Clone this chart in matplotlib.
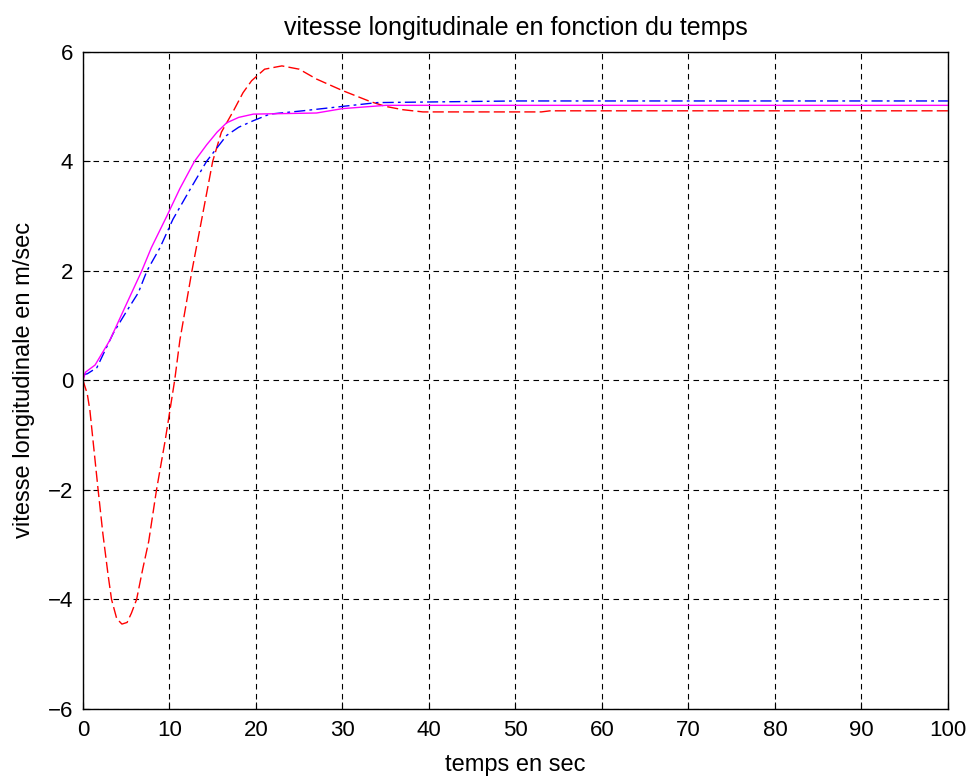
import matplotlib.pyplot as plt

plt.rcParams['font.family'] = ['Liberation Sans', 'DejaVu Sans']

# red dashed response
t_red = [0, 0.5, 0.8, 1.2, 1.75, 2.3, 2.9, 3.3, 3.9, 4.5, 5.1, 5.6, 6.2, 6.9, 7.6,
         8.5, 9.5, 10.6, 11.2, 12.6, 13.8, 15.0, 16.0, 17.4, 18.5, 19.5, 21, 23,
         25, 27, 30, 33.2, 35, 37, 39.3, 53, 54, 100]
v_red = [0, -0.25, -0.55, -1.16, -2.0, -2.8, -3.55, -4.0, -4.35, -4.45, -4.42, -4.25,
         -4.0, -3.45, -2.94, -2.0, -1.1, 0.0, 0.73, 2.0, 3.0, 4.0, 4.53, 4.92, 5.25,
         5.47, 5.68, 5.74, 5.68, 5.5, 5.29, 5.09, 5.0, 4.94, 4.90, 4.90, 4.92, 4.92]

# blue dash-dot response
t_blue = [0, 0.5, 1.6, 3.5, 5.0, 6.4, 7.4, 8.9, 10.4, 12.4, 14.3, 16.6, 18.0, 19.7,
          21.6, 25.4, 29.4, 34, 50, 100]
v_blue = [0.1, 0.12, 0.23, 0.86, 1.25, 1.6, 2.0, 2.42, 2.94, 3.49, 4.0, 4.47, 4.62,
          4.74, 4.86, 4.92, 4.99, 5.07, 5.10, 5.10]

# magenta solid response
t_mag = [0, 0.3, 1.4, 3.1, 4.9, 6.8, 7.9, 9.7, 11.2, 12.9, 14.3, 15.5, 16.6, 18.0,
         19.7, 27, 30, 35, 100]
v_mag = [0, 0.15, 0.28, 0.73, 1.35, 2.0, 2.42, 3.0, 3.5, 4.0, 4.3, 4.53, 4.70, 4.80,
         4.86, 4.88, 4.96, 5.02, 5.02]

x_ticks = list(range(0, 101, 10))
y_ticks = list(range(-6, 7, 2))

fig = plt.figure(figsize=(9.74, 7.78), dpi=100)
ax = fig.add_axes([0.0852, 0.0887, 0.888, 0.8449])

ax.plot(t_red, v_red, color='red', linestyle=(0, (8, 3)), linewidth=1)
ax.plot(t_blue, v_blue, color='blue', linestyle=(0, (8, 3, 2, 3)), linewidth=1)
ax.plot(t_mag, v_mag, color='magenta', linestyle='-', linewidth=1)

ax.set_xlim(0, 100)
ax.set_ylim(-6, 6)
ax.set_xticks(x_ticks)
ax.set_yticks(y_ticks)
ax.grid(True, color='black', linestyle=(0, (5, 4)), linewidth=0.8)
ax.tick_params(direction='in', labelsize=16, length=5, width=0.8)
ax.tick_params(axis='x', pad=8)
ax.tick_params(axis='y', pad=7)
for s in ax.spines.values():
    s.set_linewidth(1)

ax.set_title('vitesse longitudinale en fonction du temps', fontsize=18, pad=12)
ax.set_xlabel('temps en sec', fontsize=17, labelpad=9)
ax.set_ylabel('vitesse longitudinale en m/sec', fontsize=17, labelpad=9)

fig.savefig('out.png', dpi=100)
